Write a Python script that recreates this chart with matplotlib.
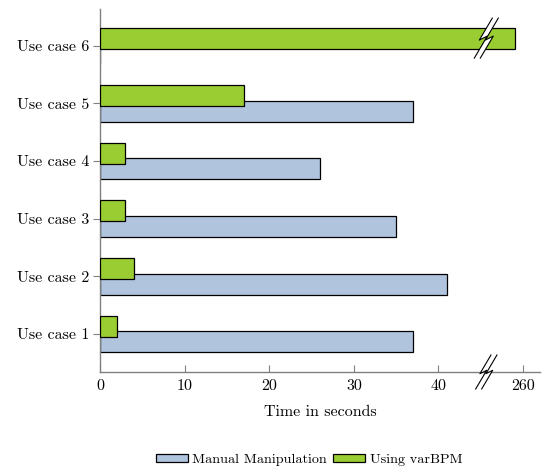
import matplotlib
matplotlib.use("Agg")
import matplotlib.pyplot as plt
import matplotlib.transforms as mtransforms
from matplotlib.patches import Patch, Polygon
from matplotlib.lines import Line2D

plt.rcParams['font.family'] = ['cmr10', 'DejaVu Serif']
plt.rcParams['axes.formatter.use_mathtext'] = True
plt.rcParams['font.size'] = 11.5

cases = ["Use case 1", "Use case 2", "Use case 3", "Use case 4", "Use case 5", "Use case 6"]
manual = [37, 41, 35, 26, 37, 0]
varbpm = [2, 4, 3, 3, 17, 259]
xticks_real = [0, 10, 20, 30, 40, 260]

# broken axis: everything above the break is shifted left by 210
BREAK_AT = 45.7
SHIFT = 210


def to_axis(v):
    return v - SHIFT if v > BREAK_AT else v


blue = "#B0C4DE"
green = "#9ACD32"
gray = "#808080"

fig = plt.figure(figsize=(5.42, 4.70), dpi=100)
ax = fig.add_axes([100 / 542, 98 / 470, 440 / 542, 363 / 470])

ypos = list(range(1, len(cases) + 1))
h = 0.366
off = 0.135
ax.barh([y - off for y in ypos], [to_axis(v) for v in manual], height=h,
        color=blue, edgecolor="black", linewidth=0.9, zorder=2)
ax.barh([y + off for y in ypos], [to_axis(v) for v in varbpm], height=h,
        color=green, edgecolor="black", linewidth=0.9, zorder=3)

ax.set_xlim(0, 52.0)
ax.set_ylim(0.34, 6.64)
ax.set_yticks(ypos)
ax.set_yticklabels(cases)
ax.set_xticks([to_axis(v) for v in xticks_real])
ax.set_xticklabels([str(v) for v in xticks_real])
ax.tick_params(axis="y", direction="out", length=5, color=gray, pad=3)
ax.tick_params(axis="x", direction="in", length=5, color=gray, pad=5)
for s in ["top", "right"]:
    ax.spines[s].set_visible(False)
for s in ["left", "bottom"]:
    ax.spines[s].set_color(gray)
    ax.spines[s].set_linewidth(1.0)
ax.set_xlabel("Time in seconds", labelpad=9)


def draw_break(x, y, half_h):
    # lightning-shaped break mark, sizes in pixels around data point (x, y)
    trans = fig.dpi_scale_trans + mtransforms.ScaledTranslation(x, y, ax.transData)
    k = half_h / 20.0
    line1 = [(9 * k, 20 * k), (-4 * k, -2 * k), (4 * k, 2 * k), (-9 * k, -20 * k)]
    d = 6
    line2 = [(px + d, py) for px, py in line1]
    poly = [(px / 100, py / 100) for px, py in line1 + line2[::-1]]
    ax.add_patch(Polygon(poly, closed=True, facecolor="white", edgecolor="none",
                         transform=trans, zorder=5, clip_on=False))
    for ln in (line1, line2):
        ax.add_line(Line2D([p[0] / 100 for p in ln], [p[1] / 100 for p in ln],
                           color="black", linewidth=0.8, transform=trans,
                           zorder=6, clip_on=False))


draw_break(BREAK_AT - 0.4, 6 + off, 20)
draw_break(BREAK_AT - 0.4, 0.34, 17)

handles = [Patch(facecolor=blue, edgecolor="black", linewidth=0.9),
           Patch(facecolor=green, edgecolor="black", linewidth=0.9)]
fig.legend(handles, ["Manual Manipulation", "Using varBPM"], loc="center",
           bbox_to_anchor=(309 / 542, 10 / 470), ncol=2, frameon=False,
           fontsize=10.2, handlelength=2.3, handleheight=0.55, handletextpad=0.3,
           columnspacing=0.4, borderpad=0.1)

fig.savefig("out.png", dpi=100)
